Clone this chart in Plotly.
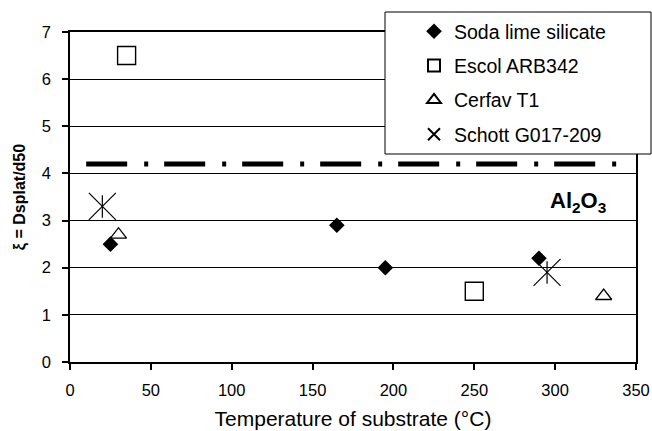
import plotly.graph_objects as go

# ---- data ----
soda_x = [25, 165, 195, 290]
soda_y = [2.5, 2.9, 2.0, 2.2]
escol_x = [35, 250]
escol_y = [6.5, 1.5]
cerfav_x = [30, 330]
cerfav_y = [2.7, 1.4]
schott_x = [20, 295]
schott_y = [3.3, 1.9]
ref_line_x = [10, 340]
ref_line_y = [4.2, 4.2]
x_ticks = [0, 50, 100, 150, 200, 250, 300, 350]
y_ticks = [0, 1, 2, 3, 4, 5, 6, 7]

FONT = "Liberation Sans, Arial, sans-serif"

fig = go.Figure()

fig.add_trace(go.Scatter(
    x=ref_line_x, y=ref_line_y, mode="lines", showlegend=False, hoverinfo="skip",
    line=dict(color="black", width=5, dash="41px,17px,4px,16px")))

fig.add_trace(go.Scatter(
    x=soda_x, y=soda_y, mode="markers", name="Soda lime silicate", legendgroup="a",
    marker=dict(symbol="diamond", size=12, color="black", line=dict(width=0))))
fig.add_trace(go.Scatter(
    x=escol_x, y=escol_y, mode="markers", name="Escol ARB342", legendgroup="b",
    marker=dict(symbol="square", size=18, color="white", line=dict(color="black", width=1.4))))
fig.add_trace(go.Scatter(
    x=cerfav_x, y=cerfav_y, mode="markers", name="Cerfav T1", legendgroup="c",
    marker=dict(symbol="triangle-up", size=14, color="white", line=dict(color="black", width=1.3))))
fig.add_trace(go.Scatter(
    x=schott_x, y=schott_y, mode="markers", name="Schott G017-209", legendgroup="d",
    marker=dict(symbol="x-thin", size=27, color="black", line=dict(color="black", width=1.2))))
fig.add_trace(go.Scatter(
    x=schott_x, y=schott_y, mode="markers", showlegend=False, legendgroup="d", hoverinfo="skip",
    marker=dict(symbol="line-ns", size=16, color="black", line=dict(color="black", width=1.2))))

# legend box
fig.add_shape(type="rect", xref="paper", yref="paper",
              x0=(385 - 70) / 566, x1=(651 - 70) / 566,
              y0=(362 - 154) / 330, y1=(362 - 12) / 330,
              line=dict(color="black", width=1), fillcolor="white", layer="above")

fig.add_annotation(x=314, y=3.4, xref="x", yref="y", showarrow=False,
                   text="<b>Al<sub>2</sub>O<sub>3</sub></b>",
                   font=dict(family=FONT, size=22, color="black"))

fig.update_layout(
    width=652, height=431,
    margin=dict(l=70, r=16, t=32, b=69, autoexpand=False),
    paper_bgcolor="white", plot_bgcolor="white",
    font=dict(family=FONT, color="black"),
    legend=dict(x=(414 - 70) / 566, y=(362 - 12) / 330, xanchor="left", yanchor="top",
                bgcolor="rgba(0,0,0,0)", borderwidth=0,
                font=dict(family=FONT, size=19.5, color="black"),
                itemsizing="constant", tracegroupgap=6),
    xaxis=dict(range=[0, 350], tickvals=x_ticks, showgrid=False, zeroline=False,
               automargin=False,
               showline=True, linecolor="black", linewidth=1.5, mirror=True,
               ticks="outside", ticklen=6, tickcolor="black", tickwidth=1.5,
               ticklabelstandoff=6,
               tickfont=dict(family=FONT, size=16.5, color="black"),
               title=dict(text="Temperature of substrate (°C)", standoff=14,
                          font=dict(family=FONT, size=21, color="black"))),
    yaxis=dict(range=[0, 7], tickvals=y_ticks, showgrid=True, gridcolor="black", gridwidth=1,
               zeroline=False, automargin=False,
               showline=True, linecolor="black", linewidth=1.5, mirror=True,
               ticks="outside", ticklen=6, tickcolor="black", tickwidth=1.5,
               ticklabelstandoff=8,
               tickfont=dict(family=FONT, size=16.5, color="black"),
               title=dict(text="<b>ξ = Dsplat/d50</b>", standoff=12,
                          font=dict(family=FONT, size=16, color="black"))),
)

fig.write_html("out.html", config={"displayModeBar": False},
               post_script="document.body.style.margin='0';")
